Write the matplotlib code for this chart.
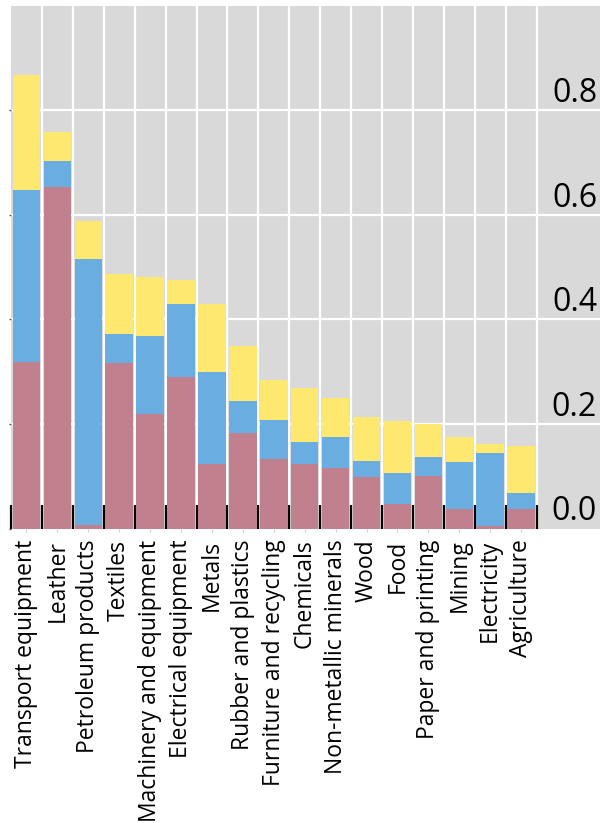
import numpy as np
import matplotlib
matplotlib.use("Agg")
import matplotlib.pyplot as plt
import matplotlib.transforms as mtransforms

categories = ["Transport equipment", "Leather", "Petroleum products", "Textiles",
              "Machinery and equipment", "Electrical equipment", "Metals",
              "Rubber and plastics", "Furniture and recycling", "Chemicals",
              "Non-metallic minerals", "Wood", "Food", "Paper and printing",
              "Mining", "Electricity", "Agriculture"]
pink_vals = [0.319, 0.654, 0.006, 0.317, 0.219, 0.290, 0.123, 0.183, 0.133,
             0.124, 0.116, 0.098, 0.047, 0.101, 0.037, 0.004, 0.037]
blue_vals = [0.329, 0.050, 0.510, 0.055, 0.150, 0.139, 0.177, 0.061, 0.075,
             0.041, 0.059, 0.031, 0.059, 0.036, 0.091, 0.140, 0.031]
yellow_vals = [0.219, 0.054, 0.073, 0.116, 0.112, 0.047, 0.130, 0.106, 0.077,
               0.104, 0.075, 0.084, 0.100, 0.063, 0.047, 0.018, 0.090]
ytick_vals = [0.0, 0.2, 0.4, 0.6, 0.8]
ytick_labels = ["0.0", "0.2", "0.4", "0.6", "0.8"]

plt.rcParams['font.family'] = ['Open Sans', 'DejaVu Sans']

fig = plt.figure(figsize=(6.0, 8.23), dpi=100)
H = 823.0
ax = fig.add_axes([11/600, (H-528.5)/H, 589/600, 522.5/H])
ax.set_facecolor('#D9D9D9')
for s in ax.spines.values():
    s.set_visible(False)

x = np.arange(len(categories))
pink = np.array(pink_vals)
blue = np.array(blue_vals)
yellow = np.array(yellow_vals)
w = 0.89
ax.bar(x, pink, width=w, color='#C1808E', zorder=2, linewidth=0)
ax.bar(x, blue, width=w, bottom=pink, color='#6AADE0', zorder=2, linewidth=0)
ax.bar(x, yellow, width=w, bottom=pink + blue, color='#FFE870', zorder=2, linewidth=0)

# grid drawn behind bars
for v in ytick_vals[1:]:
    ax.axhline(v, color='white', lw=1.6, zorder=0.5)
for b in np.arange(0.5, len(categories), 1.0):
    ax.axvline(b, color='white', lw=1.6, zorder=0.5)

ax.set_xlim(-0.445, 18.55)
ax.set_ylim(0, 1.0)

ax.set_xticks(x)
ax.set_xticklabels(categories, rotation=90, fontsize=16.5, va='top', ha='center',
                   fontweight='medium')
ax.tick_params(axis='x', which='major', length=2, color='#CCCCCC', pad=6, labelcolor='black')
ax.set_xticks(np.arange(-0.5, len(categories), 1.0), minor=True)
ax.tick_params(axis='x', which='minor', direction='in', length=17, width=1.6, color='black')

ax.set_yticks(ytick_vals)
ax.set_yticklabels([])
ax.tick_params(axis='y', which='major', length=1.5, width=1, color='#555555')

trans = mtransforms.blended_transform_factory(ax.transAxes, ax.transData)
off = mtransforms.ScaledTranslation(-3/100, 8/100, fig.dpi_scale_trans)
for v, lab in zip(ytick_vals, ytick_labels):
    ax.text(1.0, v, lab, transform=trans + off, ha='right', va='baseline',
            fontsize=23, color='black', zorder=5, fontweight='medium')

fig.savefig('out.png', dpi=100, facecolor='white')
